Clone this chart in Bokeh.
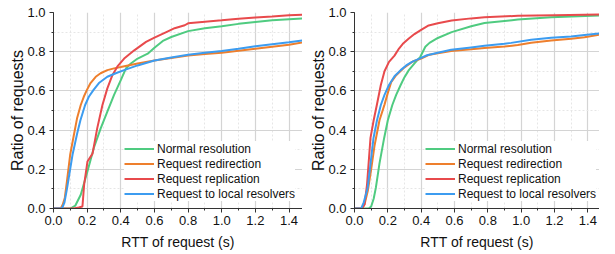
from bokeh.plotting import figure
from bokeh.layouts import row
from bokeh.models import Range1d, SingleIntervalTicker, Legend, LegendItem, NumeralTickFormatter
from bokeh.embed import file_html
from bokeh.resources import INLINE

labels = ["Normal resolution", "Request redirection", "Request replication", "Request to local resolvers"]
colors = ["#4fcb80", "#ee7f2d", "#e84a4c", "#3c9cf0"]

# Left panel
l_norm_x = [0, 0.10, 0.13, 0.162, 0.202, 0.24, 0.281, 0.32, 0.36, 0.40, 0.43, 0.46, 0.5, 0.56, 0.6, 0.65, 0.7, 0.8, 0.9, 1.0, 1.1, 1.2, 1.3, 1.4, 1.5]
l_norm_y = [0, 0, 0.015, 0.07, 0.19, 0.31, 0.41, 0.494, 0.58, 0.655, 0.714, 0.74, 0.765, 0.79, 0.82, 0.855, 0.875, 0.905, 0.92, 0.93, 0.942, 0.952, 0.96, 0.966, 0.97]
l_redir_x = [0, 0.043, 0.055, 0.067, 0.08, 0.099, 0.12, 0.14, 0.162, 0.18, 0.198, 0.22, 0.251, 0.28, 0.32, 0.36, 0.40, 0.5, 0.6, 0.7, 0.8, 0.9, 1.0, 1.1, 1.2, 1.3, 1.4, 1.5]
l_redir_y = [0, 0, 0.02, 0.054, 0.14, 0.274, 0.37, 0.46, 0.528, 0.57, 0.604, 0.64, 0.672, 0.69, 0.706, 0.715, 0.722, 0.74, 0.755, 0.768, 0.78, 0.788, 0.795, 0.805, 0.815, 0.825, 0.835, 0.85]
l_repl_x = [0, 0.12, 0.15, 0.172, 0.182, 0.202, 0.232, 0.26, 0.291, 0.32, 0.35, 0.38, 0.42, 0.48, 0.55, 0.6, 0.68, 0.72, 0.78, 0.8, 0.9, 1.0, 1.1, 1.2, 1.3, 1.4, 1.5]
l_repl_y = [0, 0, 0.005, 0.01, 0.12, 0.24, 0.28, 0.41, 0.528, 0.613, 0.68, 0.725, 0.765, 0.807, 0.85, 0.872, 0.904, 0.92, 0.935, 0.945, 0.953, 0.96, 0.968, 0.975, 0.98, 0.986, 0.99]
l_local_x = [0, 0.05, 0.065, 0.08, 0.095, 0.113, 0.14, 0.16, 0.188, 0.21, 0.237, 0.27, 0.32, 0.37, 0.42, 0.5, 0.6, 0.7, 0.8, 0.9, 1.0, 1.1, 1.2, 1.3, 1.4, 1.5]
l_local_y = [0, 0, 0.03, 0.1, 0.18, 0.274, 0.38, 0.45, 0.528, 0.57, 0.604, 0.64, 0.672, 0.69, 0.706, 0.73, 0.755, 0.77, 0.785, 0.795, 0.804, 0.815, 0.828, 0.838, 0.848, 0.86]

# Right panel
r_norm_x = [0, 0.085, 0.1, 0.115, 0.128, 0.15, 0.178, 0.2, 0.227, 0.25, 0.277, 0.3, 0.326, 0.36, 0.395, 0.41, 0.425, 0.45, 0.5, 0.583, 0.7, 0.78, 0.98, 1.18, 1.5]
r_norm_y = [0, 0, 0.01, 0.05, 0.105, 0.23, 0.36, 0.45, 0.528, 0.58, 0.63, 0.67, 0.706, 0.74, 0.774, 0.8, 0.825, 0.845, 0.87, 0.9, 0.93, 0.946, 0.964, 0.976, 0.985]
r_redir_x = [0, 0.045, 0.06, 0.08, 0.1, 0.12, 0.15, 0.18, 0.2, 0.22, 0.25, 0.3, 0.35, 0.4, 0.45, 0.5, 0.58, 0.7, 0.78, 0.9, 0.98, 1.06, 1.18, 1.3, 1.38, 1.5]
r_redir_y = [0, 0, 0.02, 0.09, 0.2, 0.32, 0.45, 0.53, 0.59, 0.645, 0.68, 0.72, 0.75, 0.765, 0.785, 0.792, 0.803, 0.812, 0.819, 0.826, 0.834, 0.846, 0.857, 0.866, 0.874, 0.891]
r_repl_x = [0, 0.045, 0.06, 0.075, 0.096, 0.115, 0.134, 0.158, 0.18, 0.207, 0.24, 0.267, 0.29, 0.326, 0.36, 0.395, 0.445, 0.5, 0.583, 0.7, 0.78, 0.98, 1.2, 1.5]
r_repl_y = [0, 0, 0.02, 0.12, 0.36, 0.45, 0.528, 0.63, 0.7, 0.748, 0.78, 0.816, 0.84, 0.867, 0.89, 0.909, 0.934, 0.945, 0.959, 0.97, 0.976, 0.983, 0.986, 0.99]
r_local_x = [0, 0.04, 0.055, 0.079, 0.095, 0.114, 0.135, 0.158, 0.18, 0.207, 0.24, 0.277, 0.31, 0.345, 0.39, 0.435, 0.5, 0.58, 0.7, 0.78, 0.9, 0.94, 1.06, 1.18, 1.3, 1.38, 1.5]
r_local_y = [0, 0, 0.03, 0.105, 0.22, 0.36, 0.45, 0.528, 0.58, 0.63, 0.675, 0.706, 0.73, 0.748, 0.765, 0.782, 0.795, 0.81, 0.822, 0.83, 0.84, 0.845, 0.861, 0.871, 0.878, 0.885, 0.895]

FONT = "Liberation Sans"


def make_panel(series, width, border_left, xmax):
    p = figure(width=width, height=252, output_backend="svg", toolbar_location=None,
               x_range=Range1d(0, xmax), y_range=Range1d(0, 1.0),
               min_border_left=border_left, min_border_right=0,
               min_border_top=12, min_border_bottom=43)
    p.outline_line_color = None
    p.background_fill_color = "white"
    p.border_fill_color = "white"
    p.xaxis.ticker = SingleIntervalTicker(interval=0.2, num_minor_ticks=2)
    p.yaxis.ticker = SingleIntervalTicker(interval=0.2, num_minor_ticks=2)
    for ax in (p.xaxis, p.yaxis):
        ax.axis_line_color = "#333333"
        ax.axis_line_width = 1
        ax.major_tick_line_color = "#333333"
        ax.minor_tick_line_color = "#333333"
        ax.major_tick_in = 0
        ax.major_tick_out = 4
        ax.minor_tick_in = 0
        ax.minor_tick_out = 2
        ax.major_label_text_font = FONT
        ax.major_label_text_font_size = "13px"
        ax.major_label_text_color = "#111111"
        ax.axis_label_text_font = FONT
        ax.axis_label_text_font_style = "normal"
        ax.axis_label_text_color = "#111111"
        ax.formatter = NumeralTickFormatter(format="0.0")
    p.xaxis.axis_label = "RTT of request (s)"
    p.yaxis.axis_label = "Ratio of requests"
    p.xaxis.axis_label_text_font_size = "14px"
    p.yaxis.axis_label_text_font_size = "16px"
    p.xaxis.major_label_standoff = 3
    p.yaxis.major_label_standoff = 4
    p.xaxis.axis_label_standoff = 6
    p.yaxis.axis_label_standoff = -2
    for g in (p.xgrid, p.ygrid):
        g.grid_line_color = "#d4d4d4"
        g.grid_line_width = 1.2
        g.minor_grid_line_color = "#e6e6e6"
        g.minor_grid_line_dash = "2 2"
        g.minor_grid_line_width = 1
    items = []
    for (xs, ys), lab, col in zip(series, labels, colors):
        r = p.line(xs, ys, line_color=col, line_width=2)
        items.append(LegendItem(label=lab, renderers=[r]))
    leg = Legend(items=items, location=(71, 7), glyph_width=30, glyph_height=15,
                 label_height=15, label_standoff=3, spacing=0, padding=2, margin=0,
                 label_text_font=FONT, label_text_font_size="12px", label_text_color="#111111",
                 border_line_color=None, background_fill_color="white", background_fill_alpha=1.0)
    p.add_layout(leg, "center")
    return p


left = make_panel([(l_norm_x, l_norm_y), (l_redir_x, l_redir_y), (l_repl_x, l_repl_y), (l_local_x, l_local_y)],
                  302, 53, 1.48)
right = make_panel([(r_norm_x, r_norm_y), (r_redir_x, r_redir_y), (r_repl_x, r_repl_y), (r_local_x, r_local_y)],
                   297, 52, 1.47)

layout = row(left, right, spacing=0)
open("out.html", "w").write(file_html(layout, INLINE))
